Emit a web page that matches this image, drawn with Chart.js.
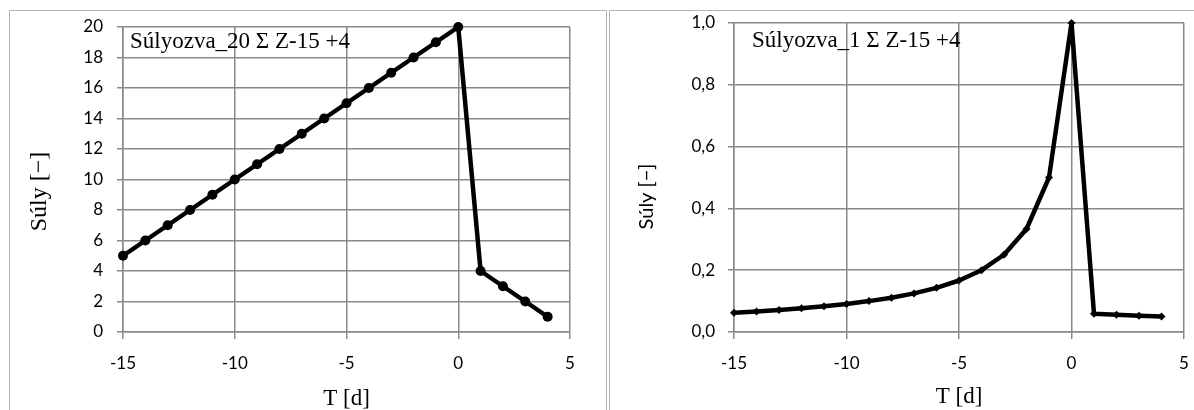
<!DOCTYPE html>
<html>
<head>
<meta charset="utf-8">
<script src="https://cdn.jsdelivr.net/npm/chart.js@4"></script>
<style>
body{margin:0;background:#fff;width:1194px;height:410px;overflow:hidden;position:relative}
.frame{position:absolute;top:10px;height:430px;border:1px solid #b4b4b4;box-sizing:border-box}
#f1{left:9px;width:598px}
#f2{left:609px;width:600px}
canvas{position:absolute}
</style>
</head>
<body>
<div class="frame" id="f1"></div>
<div class="frame" id="f2"></div>
<canvas id="c1" width="597" height="399" style="left:10px;top:11px"></canvas>
<canvas id="c2" width="583" height="399" style="left:611px;top:11px"></canvas>
<script>
// T [d]
const days = [-15, -14, -13, -12, -11, -10, -9, -8, -7, -6, -5, -4, -3, -2, -1, 0, 1, 2, 3, 4]
// weights, left chart
const weights20 = [5, 6, 7, 8, 9, 10, 11, 12, 13, 14, 15, 16, 17, 18, 19, 20, 4, 3, 2, 1]
// weights, right chart
const weights1 = [0.0625, 0.0667, 0.0714, 0.0769, 0.0833, 0.0909, 0.1, 0.1111, 0.125, 0.1429,
  0.1667, 0.2, 0.25, 0.3333, 0.5, 1, 0.0588, 0.0556, 0.0526, 0.05]
const xTicks = [-15, -10, -5, 0, 5]
const notes = ['Súlyozva_20 Σ Z-15 +4', 'Súlyozva_1 Σ Z-15 +4']
const yTitle = 'Súly [−]'

const grey = '#898989'
const sans = 'Lato'
const serif = 'Liberation Serif'

// note in the top left corner of the plot + rotated y title
const texts = {
  id: 'texts',
  afterDatasetsDraw(chart, args, opts) {
    const { ctx, chartArea } = chart
    ctx.save()
    ctx.fillStyle = '#000'
    ctx.textBaseline = 'middle'
    ctx.font = '23px "' + serif + '"'
    ctx.fillText(opts.note, chartArea.left + opts.noteDx, chartArea.top + opts.noteDy)
    ctx.translate(opts.titleX, (chartArea.top + chartArea.bottom) / 2 + opts.titleDy)
    ctx.rotate(-Math.PI / 2)
    ctx.textAlign = 'center'
    ctx.font = opts.titleFont
    ctx.fillText(yTitle, 0, 0)
    ctx.restore()
  }
}

function makeChart(el, values, cfg) {
  return new Chart(el, {
    type: 'scatter',
    data: {
      datasets: [{
        data: days.map((d, i) => ({ x: d, y: values[i] })),
        showLine: true,
        borderColor: '#000',
        backgroundColor: '#000',
        borderWidth: 4.5,
        borderJoinStyle: 'round',
        pointStyle: cfg.pointStyle,
        pointRadius: cfg.pointRadius,
        pointBorderWidth: 0,
        clip: false
      }]
    },
    options: {
      responsive: false,
      animation: false,
      layout: { padding: { left: 0, top: cfg.top, right: cfg.right, bottom: 0 } },
      plugins: {
        legend: { display: false },
        tooltip: { enabled: false },
        texts: {
          note: cfg.note, noteDx: cfg.noteDx, noteDy: cfg.noteDy,
          titleX: cfg.titleX, titleDy: cfg.titleDy, titleFont: cfg.titleFont
        }
      },
      scales: {
        x: {
          type: 'linear', min: -15, max: 5,
          afterBuildTicks: s => { s.ticks = xTicks.map(v => ({ value: v })) },
          afterFit: s => { s.height = 78; s.paddingLeft = 0; s.paddingRight = 0 },
          grid: { color: grey, lineWidth: 1.5, tickLength: 7 },
          border: { color: grey, width: 1.5 },
          ticks: { color: '#000', font: { family: sans, size: 17 }, padding: 14 },
          title: { display: true, text: 'T [d]', color: '#000', font: { family: serif, size: 23, lineHeight: 1 }, padding: { top: 0, bottom: cfg.xTitlePad } }
        },
        y: {
          min: 0, max: cfg.ymax,
          afterFit: s => { s.width = cfg.yWidth; s.paddingTop = 0; s.paddingBottom = 0 },
          grid: { color: grey, lineWidth: 1.5, tickLength: 6 },
          border: { color: grey, width: 1.5 },
          ticks: { color: '#000', font: { family: sans, size: 17 }, padding: cfg.yTickPad, stepSize: cfg.step, callback: cfg.fmt }
        }
      }
    },
    plugins: [texts]
  })
}

makeChart(document.getElementById('c1'), weights20, {
  pointStyle: 'circle', pointRadius: 5, top: 16, right: 37, yWidth: 113, ymax: 20, step: 2,
  fmt: v => String(v), yTickPad: 14, xTitlePad: 0,
  titleX: 30, titleDy: 12, titleFont: '24px "' + serif + '"',
  note: notes[0], noteDx: 7, noteDy: 15
})

makeChart(document.getElementById('c2'), weights1, {
  pointStyle: 'rectRot', pointRadius: 4, top: 12, right: 10, yWidth: 123, ymax: 1, step: 0.2,
  fmt: v => v.toFixed(1).replace('.', ','), yTickPad: 13, xTitlePad: 2,
  titleX: 36, titleDy: 19, titleFont: '20px ' + sans,
  note: notes[1], noteDx: 18, noteDy: 18
})
</script>
</body>
</html>
